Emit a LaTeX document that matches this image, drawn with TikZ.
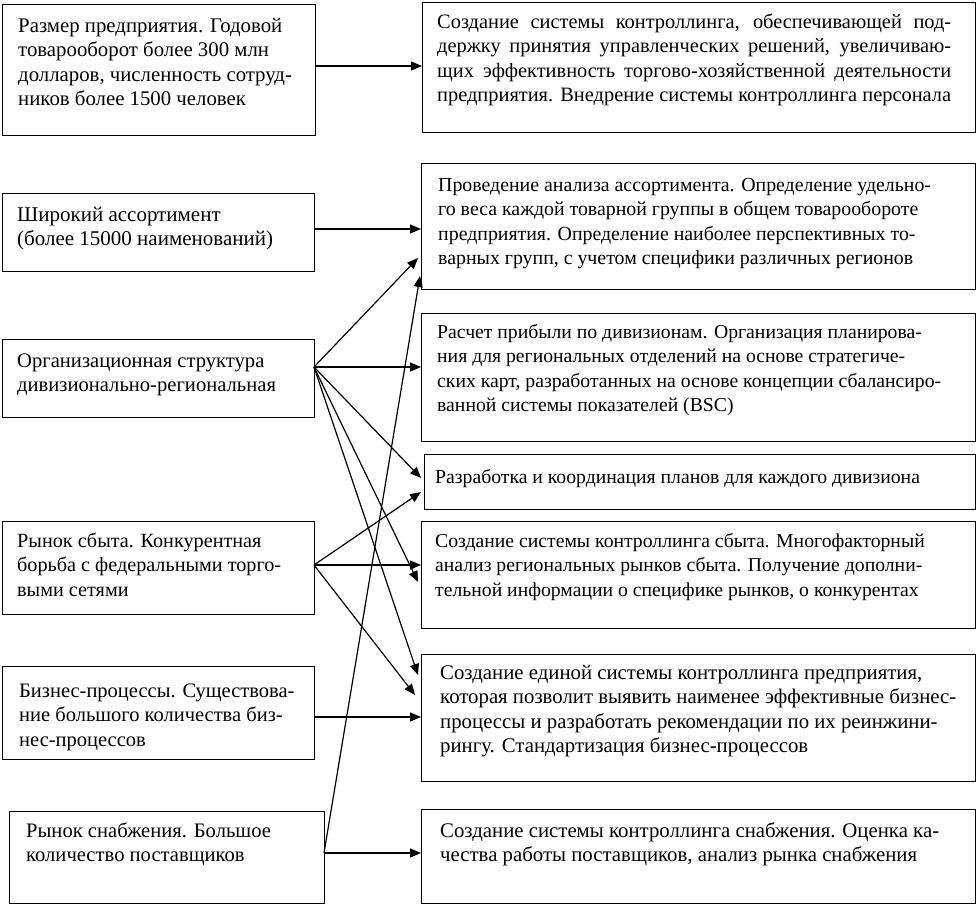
\documentclass[tikz,border=0pt]{standalone}
\usepackage{fontspec}
\setmainfont{Liberation Serif}
\usetikzlibrary{arrows.meta}
\newcommand{\tl}[1]{\begin{tabular}[t]{@{}l@{}}#1\end{tabular}}
\newcommand{\jl}[2]{\hbox to #1pt{#2}}
\hbadness=10000
\begin{document}
\begin{tikzpicture}[x=1pt,y=-1pt,
  box/.style={draw=black,line width=1.4pt,inner sep=0pt},
  txt/.style={anchor=base west,inner sep=0pt,font=\fontsize{19.7}{24.6}\selectfont},
  fs/.style={font=\fontsize{#1}{24.6}\selectfont},
  arr/.style={line width=1.2pt,-{Triangle[length=11pt,width=9pt]}}]
\useasboundingbox (0,0) rectangle (977,905);
% boxes
\newcommand{\mybox}[5]{\node[box,minimum width=#4-#2,minimum height=#5-#3,anchor=north west] (#1) at (#2,#3) {};}
\mybox{L1}{2}{4}{315}{135}
\mybox{R1}{422}{2}{975}{132}
\mybox{L2}{2}{193}{314}{271}
\mybox{R2}{421}{163}{975}{289}
\mybox{L3}{2}{339}{314}{417}
\mybox{R3}{421}{313}{975}{441}
\mybox{R4}{424}{454}{975}{509}
\mybox{L4}{2}{521}{314}{614}
\mybox{R5}{421}{521}{975}{628}
\mybox{L5}{2}{666}{314}{759}
\mybox{R6}{421}{654}{975}{781}
\mybox{L6}{9}{811}{324}{903}
\mybox{R7}{421}{809}{975}{903}
% texts
\node[txt,fs=20.8] (tL1) at (18,32) {\tl{Размер предприятия. Годовой\\товарооборот более 300 млн\\долларов, численность сотруд-\\ников более 1500 человек}};
\node[txt,fs=20.4] (tR1) at (437,28) {\tl{\jl{514}{Создание системы контроллинга, обеспечивающей под-}\\\jl{514}{держку принятия управленческих решений, увеличиваю-}\\\jl{514}{щих эффективность торгово-хозяйственной деятельности}\\\jl{514}{предприятия. Внедрение системы контроллинга персонала}}};
\node[txt,fs=21] (tL2) at (17,221) {\tl{Широкий ассортимент\\(более 15000 наименований)}};
\node[txt,fs=19.85] (tR2) at (438,191) {\tl{Проведение анализа ассортимента. Определение удельно-\\го веса каждой товарной группы в общем товарообороте\\предприятия. Определение наиболее перспективных то-\\варных групп, с учетом специфики различных регионов}};
\node[txt,fs=20.6] (tL3) at (17,367) {\tl{Организационная структура\\дивизионально-региональная}};
\node[txt] (tR3) at (437,338) {\tl{Расчет прибыли по дивизионам. Организация планирова-\\ния для региональных отделений на основе стратегиче-\\ских карт, разработанных на основе концепции сбалансиро-\\ванной системы показателей (BSC)}};
\node[txt] (tR4) at (435,483) {\tl{Разработка и координация планов для каждого дивизиона}};
\node[txt,fs=20.2] (tL4) at (17,547) {\tl{Рынок сбыта. Конкурентная\\борьба с федеральными торго-\\выми сетями}};
\node[txt] (tR5) at (435,547) {\tl{Создание системы контроллинга сбыта. Многофакторный\\анализ региональных рынков сбыта. Получение дополни-\\тельной информации о специфике рынков, о конкурентах}};
\node[txt,fs=20.5] (tL5) at (19,697) {\tl{Бизнес-процессы. Существова-\\ние большого количества биз-\\нес-процессов}};
\node[txt,fs=20.8] (tR6) at (440,679) {\tl{Создание единой системы контроллинга предприятия,\\которая позволит выявить наименее эффективные бизнес-\\процессы и разработать рекомендации по их реинжини-\\рингу. Стандартизация бизнес-процессов}};
\node[txt,fs=20.6] (tL6) at (26,837) {\tl{Рынок снабжения. Большое\\количество поставщиков}};
\node[txt,fs=20.8] (tR7) at (440,837) {\tl{Создание системы контроллинга снабжения. Оценка ка-\\чества работы поставщиков, анализ рынка снабжения}};
% connection points
\coordinate (oL3) at (314,367);
\coordinate (oL4) at (314,565);
\coordinate (oL6) at (324,853);
\coordinate (iR2a) at (418,258);
\coordinate (iR2b) at (420,276);
\coordinate (iR4a) at (421,478);
\coordinate (iR4b) at (421,492);
\coordinate (iR5) at (418,582);
\coordinate (iR6a) at (418,675);
\coordinate (iR6b) at (415,695);
% arrows
\draw[arr] (L1.east |- 0,66) -- (R1.west |- 0,66);
\draw[arr] (L2.east |- 0,229) -- (R2.west |- 0,229);
\draw[arr] (oL3) -- (iR2a);
\draw[arr] (oL3) -- (R3.west |- oL3);
\draw[arr] (oL3) -- (iR4a);
\draw[arr] (oL3) -- (iR5);
\draw[arr] (oL3) -- (iR6a);
\draw[arr] (oL4) -- (iR4b);
\draw[arr] (oL4) -- (R5.west |- oL4);
\draw[arr] (oL4) -- (iR6b);
\draw[arr] (L5.east |- 0,717) -- (R6.west |- 0,717);
\draw[arr] (oL6) -- (R7.west |- oL6);
\draw[arr] (oL6) -- (iR2b);
\end{tikzpicture}
\end{document}
